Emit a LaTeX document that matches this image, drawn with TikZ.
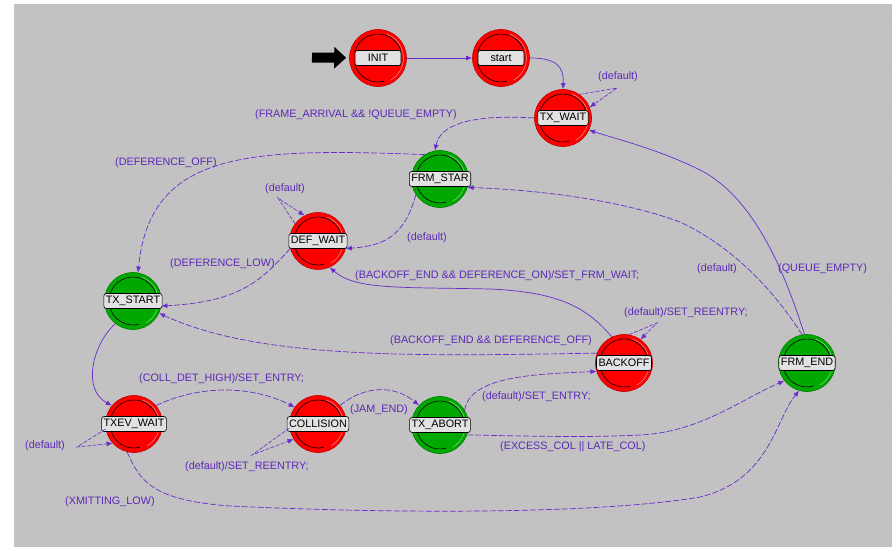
\documentclass[tikz,border=0pt]{standalone}
\usepackage{fontspec}
\setmainfont{Liberation Sans}
\usetikzlibrary{arrows.meta}

\definecolor{panel}{RGB}{194,194,194}
\definecolor{wire}{RGB}{104,44,204}
\definecolor{condtext}{RGB}{92,40,184}
\definecolor{stred}{RGB}{255,0,0}
\definecolor{stgreen}{RGB}{0,168,0}
\definecolor{tagfill}{RGB}{226,226,226}
\definecolor{texture}{RGB}{208,168,214}

\newcommand\fsmfont{\fontsize{10.8}{12}\selectfont}

\tikzset{
  state/.style={circle, minimum size=57pt, inner sep=0pt, fill=#1, draw=#1!75!black, line width=0.6pt},
  tag/.style={draw=black, fill=tagfill, rounded corners=2.5pt, line width=0.6pt,
    inner xsep=2pt, inner ysep=1.5pt, minimum width=46pt, minimum height=15pt,
    font=\fsmfont, text=black},
  cond/.style={font=\fsmfont, text=condtext, inner sep=0pt, anchor=west},
  trans/.style={draw=wire, line width=0.7pt, -{Latex[length=6pt,width=5pt]}},
  guard/.style={trans, dash pattern=on 6pt off 2pt},
  selfloop/.style={trans, line width=0.6pt, dash pattern=on 4pt off 1.5pt},
  grain/.style={draw=texture, line width=0.5pt, dash pattern=on 0.6pt off 2.8pt},
}

\begin{document}
\begin{tikzpicture}[x=1pt, y=-1pt]
  \useasboundingbox (0,0) rectangle (892,547);
  \fill[white] (0,0) rectangle (892,547);
  \fill[panel] (14,4) rectangle (892,547);

  % dotted contour texture of the editor canvas
  \begin{scope}
    \clip (14,4) rectangle (892,547);
    \foreach \y in {-110,-98,...,460} {
      \draw[grain] plot[domain=20:892, samples=70, smooth]
        (\x, {\y + 0.1*(\x-14)*(1-\y/480) + 4*sin(4*\x+5*\y) + 2*sin(9*\x+13*\y)});
    }
    \foreach \y in {478,486,...,540} {
      \draw[grain] (20,\y) -- (892,\y);
    }
  \end{scope}

  % states
  \node[state=stred]   (init)      at (378,58)  {};
  \node[state=stred]   (start)     at (501,58)  {};
  \node[state=stred]   (txwait)    at (563,118) {};
  \node[state=stgreen] (frmstar)   at (440,179) {};
  \node[state=stred]   (defwait)   at (318,241) {};
  \node[state=stgreen] (txstart)   at (133,301) {};
  \node[state=stred]   (txevwait)  at (134,424) {};
  \node[state=stred]   (collision) at (318,424) {};
  \node[state=stgreen] (txabort)   at (440,425) {};
  \node[state=stred]   (backoff)   at (624,363) {};
  \node[state=stgreen] (frmend)    at (807,363) {};

  % bevel lines inside each state disc
  \foreach \n/\hl in {init/stred, start/stred, txwait/stred, defwait/stred,
                      txevwait/stred, collision/stred, backoff/stred,
                      frmstar/stgreen, txstart/stgreen, txabort/stgreen, frmend/stgreen} {
    \draw[black, line width=0.6pt] ([shift={(165:24pt)}]\n.center) arc[start angle=165, end angle=20, radius=24pt];
    \draw[black, line width=0.6pt] ([shift={(195:24pt)}]\n.center) arc[start angle=195, end angle=285, radius=24pt];
    \draw[\hl!45!white, line width=0.5pt] ([shift={(70:25.5pt)}]\n.center) arc[start angle=70, end angle=-60, radius=25.5pt];
  }

  % state names
  \node[tag] (init-tag)      at (init)      {INIT};
  \node[tag] (start-tag)     at (start)     {start};
  \node[tag] (txwait-tag)    at (txwait)    {TX\_WAIT};
  \node[tag] (frmstar-tag)   at (frmstar)   {FRM\_STAR};
  \node[tag] (defwait-tag)   at (defwait)   {DEF\_WAIT};
  \node[tag] (txstart-tag)   at (txstart)   {TX\_START};
  \node[tag] (txevwait-tag)  at (txevwait)  {TXEV\_WAIT};
  \node[tag] (collision-tag) at (collision) {COLLISION};
  \node[tag] (txabort-tag)   at (txabort)   {TX\_ABORT};
  \node[tag] (backoff-tag)   at (backoff)   {BACKOFF};
  \node[tag] (frmend-tag)    at (frmend)    {FRM\_END};

  % initial-state marker
  \coordinate (entry) at (312,57.5);
  \draw[black, line width=10pt, -{Triangle[length=12pt,width=21pt]}, shorten >=3pt] (entry) -- (init);

  % self-loop turning points
  \coordinate (txwait-loop)    at (617,88);
  \coordinate (defwait-loop)   at (278,198);
  \coordinate (backoff-loop)   at (657,323);
  \coordinate (txevwait-loop)  at (77,447);
  \coordinate (collision-loop) at (252,455);

  % unconditional transitions
  \draw[trans] (init.east) -- (start.west);
  \draw[trans] (start.east) .. controls (556,58) and (564,66) .. (txwait.north);
  \draw[trans] (txstart.232) .. controls (92,345) and (82,390) .. (txevwait.140);

  % conditional transitions
  \draw[guard] (txwait.180) .. controls (470,114) and (440,125) .. (frmstar.100);
  \draw[guard] (frmstar.122) .. controls (250,148) and (150,150) .. (txstart.80);
  \draw[guard] (frmstar.213) .. controls (405,235) and (385,246) .. (defwait.345);
  \draw[guard] (defwait.195) .. controls (262,280) and (240,302) .. (txstart.-10);
  \draw[trans] (backoff.115) .. controls (585,305) and (555,292) .. (490,289)
               .. controls (400,287) and (355,290) .. (defwait.-66);
  \draw[guard] (backoff.160) .. controls (420,356) and (260,360) .. (txstart.-25);
  \draw[guard] (txevwait.40) .. controls (200,385) and (250,385) .. (collision.144);
  \draw[guard] (collision.40) .. controls (365,385) and (395,385) .. (txabort.137);
  \draw[guard] (txabort.31) .. controls (470,375) and (540,374) .. (backoff.197);
  \draw[guard] (txabort.-20) .. controls (560,437) and (600,437) .. (640,435)
               .. controls (700,432) and (740,400) .. (frmend.218);
  \draw[guard] (txevwait.256) .. controls (140,480) and (150,500) .. (230,506)
               .. controls (400,514) and (600,514) .. (700,497)
               .. controls (770,480) and (775,420) .. (frmend.254);
  \draw[trans] (frmend.95) .. controls (790,290) and (760,200) .. (700,170)
               .. controls (660,150) and (620,140) .. (txwait.-25);
  \draw[guard] (frmend.100) .. controls (780,300) and (740,250) .. (680,222)
               .. controls (620,200) and (540,190) .. (frmstar.-17);

  % self-loops
  \draw[selfloop] (txwait.55) -- (txwait-loop) -- (txwait.22);
  \draw[selfloop] (defwait.143) -- (defwait-loop) -- (defwait.118);
  \draw[selfloop] (backoff.80) -- (backoff-loop) -- (backoff.55);
  \draw[selfloop] (txevwait.190) -- (txevwait-loop) -- (txevwait.222);
  \draw[selfloop] (collision.188) -- (collision-loop) -- (collision.212);

  % transition conditions and executives
  \node[cond] (c1)  at (598,77)  {(default)};
  \node[cond] (c2)  at (255,115) {(FRAME\_ARRIVAL \&\& !QUEUE\_EMPTY)};
  \node[cond] (c3)  at (115,163) {(DEFERENCE\_OFF)};
  \node[cond] (c4)  at (265,189) {(default)};
  \node[cond] (c5)  at (407,238) {(default)};
  \node[cond] (c6)  at (170,264) {(DEFERENCE\_LOW)};
  \node[cond] (c7)  at (355,276) {(BACKOFF\_END \&\& DEFERENCE\_ON)/SET\_FRM\_WAIT;};
  \node[cond] (c8)  at (697,269) {(default)};
  \node[cond] (c9)  at (778,269) {(QUEUE\_EMPTY)};
  \node[cond] (c10) at (624,313) {(default)/SET\_REENTRY;};
  \node[cond] (c11) at (390,341) {(BACKOFF\_END \&\& DEFERENCE\_OFF)};
  \node[cond] (c12) at (139,379) {(COLL\_DET\_HIGH)/SET\_ENTRY;};
  \node[cond] (c13) at (350,410) {(JAM\_END)};
  \node[cond] (c14) at (25,446)  {(default)};
  \node[cond] (c15) at (185,467) {(default)/SET\_REENTRY;};
  \node[cond] (c16) at (65,502)  {(XMITTING\_LOW)};
  \node[cond] (c17) at (482,397) {(default)/SET\_ENTRY;};
  \node[cond] (c18) at (500,447) {(EXCESS\_COL || LATE\_COL)};
\end{tikzpicture}
\end{document}
